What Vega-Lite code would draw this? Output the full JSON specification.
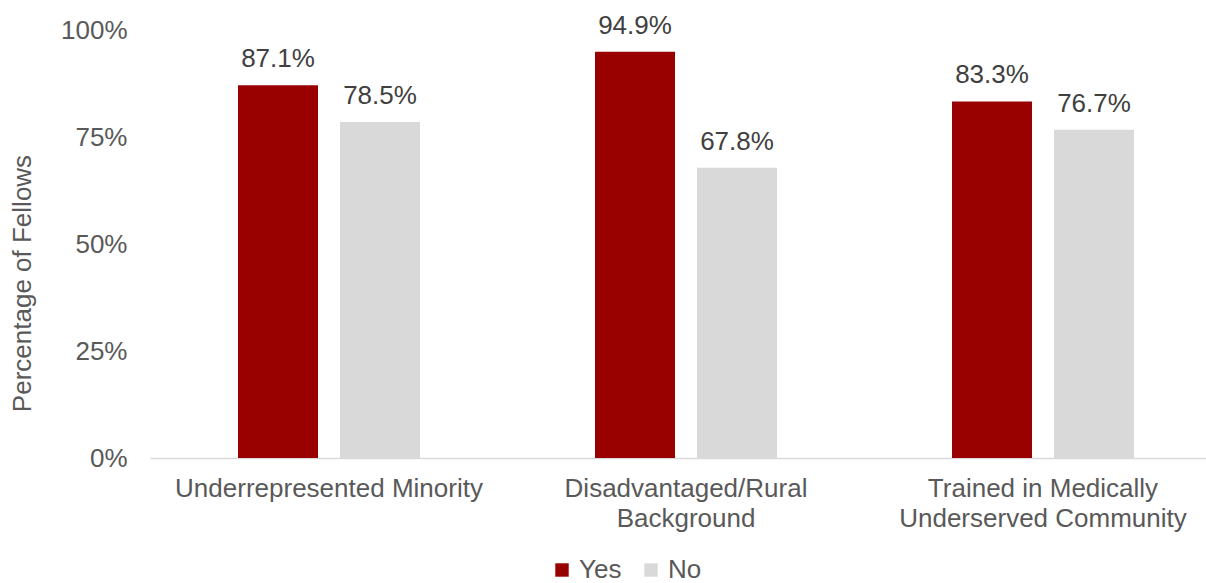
{
  "$schema": "https://vega.github.io/schema/vega-lite/v6.json",
  "width": 1056,
  "height": 428,
  "autosize": {"type": "none"},
  "padding": {"left": 150, "top": 30, "right": 0, "bottom": 125},
  "background": "white",
  "config": {
    "view": {"stroke": null},
    "font": "Liberation Sans",
    "text": {"font": "Liberation Sans"}
  },
  "data": {
    "values": [
      {"category": "Underrepresented Minority", "group": "Yes", "value": 0.871},
      {"category": "Underrepresented Minority", "group": "No", "value": 0.785},
      {"category": "Disadvantaged/Rural Background", "group": "Yes", "value": 0.949},
      {"category": "Disadvantaged/Rural Background", "group": "No", "value": 0.678},
      {"category": "Trained in Medically Underserved Community", "group": "Yes", "value": 0.833},
      {"category": "Trained in Medically Underserved Community", "group": "No", "value": 0.767}
    ]
  },
  "encoding": {
    "x": {
      "field": "category",
      "type": "nominal",
      "sort": null,
      "scale": {"paddingInner": 0.4902, "paddingOuter": 0.2241, "align": 0.55},
      "axis": {
        "title": null,
        "labelAngle": 0,
        "ticks": false,
        "domainColor": "#D9D9D9",
        "domainWidth": 1.5,
        "labelFont": "Liberation Sans",
        "labelFontSize": 26,
        "labelColor": "#595959",
        "labelPadding": 17,
        "labelLineHeight": 30,
        "labelBaseline": "top",
        "labelLimit": 0,
        "labelExpr": "datum.value == 'Disadvantaged/Rural Background' ? ['Disadvantaged/Rural', 'Background'] : datum.value == 'Trained in Medically Underserved Community' ? ['Trained in Medically', 'Underserved Community'] : datum.value"
      }
    },
    "xOffset": {
      "field": "group",
      "type": "nominal",
      "sort": ["Yes", "No"],
      "scale": {"paddingInner": 0.2157, "paddingOuter": 0}
    }
  },
  "layer": [
    {
      "mark": {"type": "bar"},
      "encoding": {
        "y": {
          "field": "value",
          "type": "quantitative",
          "scale": {"domain": [0, 1]},
          "axis": {
            "title": "Percentage of Fellows",
            "values": [0, 0.25, 0.5, 0.75, 1],
            "format": ".0%",
            "grid": false,
            "ticks": false,
            "domain": false,
            "labelFont": "Liberation Sans",
            "labelFontSize": 26,
            "labelColor": "#595959",
            "labelPadding": 23,
            "titleFont": "Liberation Sans",
            "titleFontSize": 26,
            "titleFontWeight": "normal",
            "titleColor": "#595959",
            "titleAngle": -90,
            "titleAlign": "center",
            "titleBaseline": "middle",
            "titleX": -128,
            "titleY": 253
          }
        },
        "color": {
          "field": "group",
          "type": "nominal",
          "sort": ["Yes", "No"],
          "scale": {"domain": ["Yes", "No"], "range": ["#990000", "#D9D9D9"]},
          "legend": {
            "title": null,
            "orient": "none",
            "direction": "horizontal",
            "legendX": 399,
            "legendY": 527,
            "symbolType": "square",
            "symbolSize": 180,
            "symbolStrokeWidth": 0,
            "labelFont": "Liberation Sans",
            "labelFontSize": 26,
            "labelColor": "#595959",
            "labelOffset": 4,
            "columnPadding": 16
          }
        }
      }
    },
    {
      "mark": {"type": "text", "baseline": "alphabetic", "dy": -18, "fontSize": 26, "font": "Liberation Sans"},
      "encoding": {
        "y": {"field": "value", "type": "quantitative"},
        "text": {"field": "value", "type": "quantitative", "format": ".1%"},
        "color": {"value": "#404040"}
      }
    }
  ]
}
